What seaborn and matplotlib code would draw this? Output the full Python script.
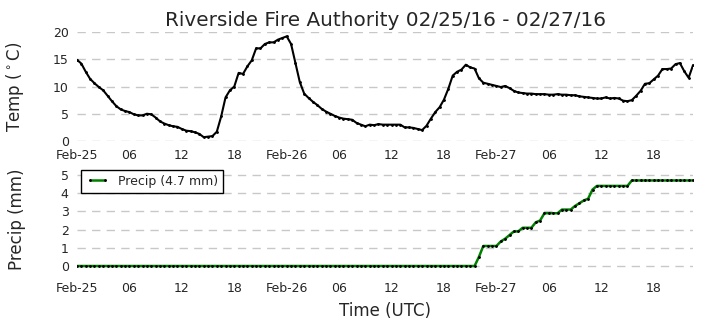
import matplotlib
matplotlib.use("Agg")
import matplotlib.pyplot as plt
import matplotlib.dates as mdates
import seaborn as sns
import pandas as pd
import numpy as np

title = "Riverside Fire Authority 02/25/16 - 02/27/16"
start_time = "2016-02-25 00:00"
step = "30min"

# Temperature (deg C), every 30 minutes from 2016-02-25 00:00 UTC
temp_c = [
    14.9, 14.2, 12.7, 11.4, 10.6, 9.9, 9.3, 8.3, 7.3, 6.4, 5.8, 5.5,
    5.3, 4.9, 4.7, 4.7, 5.0, 4.9, 4.3, 3.6, 3.2, 2.9, 2.7, 2.6,
    2.2, 1.9, 1.8, 1.6, 1.3, 0.7, 0.8, 0.9, 1.7, 4.5, 8.0, 9.3,
    10.0, 12.5, 12.3, 13.7, 14.8, 17.0, 17.0, 17.8, 18.1, 18.1, 18.6, 18.9,
    19.2, 17.8, 14.3, 10.8, 8.7, 7.9, 7.2, 6.6, 5.9, 5.4, 5.0, 4.6,
    4.3, 4.1, 4.0, 3.9, 3.3, 3.0, 2.7, 3.0, 2.9, 3.1, 3.0, 3.0,
    3.0, 3.0, 3.0, 2.5, 2.5, 2.4, 2.2, 2.0, 2.8, 4.1, 5.3, 6.2,
    7.6, 9.6, 12.0, 12.7, 13.1, 14.0, 13.5, 13.3, 11.5, 10.7, 10.5, 10.3,
    10.1, 9.9, 10.1, 9.7, 9.2, 8.9, 8.8, 8.7, 8.7, 8.6, 8.6, 8.6,
    8.5, 8.5, 8.6, 8.5, 8.5, 8.4, 8.4, 8.2, 8.1, 8.0, 7.9, 7.8,
    7.8, 8.0, 7.8, 7.9, 7.8, 7.4, 7.3, 7.5, 8.3, 9.2, 10.5, 10.6,
    11.3, 12.0, 13.2, 13.2, 13.3, 14.1, 14.3, 12.8, 11.6, 13.9,
]

# Cumulative precipitation (mm), same timestamps
precip_mm = (
    [0.0] * 92
    + [0.5, 1.1, 1.1, 1.1, 1.1, 1.35, 1.5, 1.7, 1.9, 1.9, 2.1, 2.1,
       2.1, 2.4, 2.5, 2.9, 2.9, 2.9, 2.9, 3.1, 3.1, 3.1, 3.3, 3.45,
       3.6, 3.7, 4.2, 4.4, 4.4, 4.4, 4.4, 4.4, 4.4, 4.4, 4.4, 4.7,
       4.7, 4.7, 4.7, 4.7, 4.7, 4.7, 4.7, 4.7, 4.7, 4.7, 4.7, 4.7,
       4.7, 4.7]
)

times = pd.date_range(start_time, periods=len(temp_c), freq=step)
df = pd.DataFrame({"time": times, "temp": temp_c, "precip": precip_mm[:len(temp_c)]})
total = df["precip"].max()

sns.set_style("white")
plt.rcParams["font.family"] = ["DejaVu Sans"]

fig = plt.figure(figsize=(7.05, 3.28), dpi=100)
ax1 = fig.add_axes([77 / 705, 1 - 141 / 328, 616 / 705, 109 / 328])
ax2 = fig.add_axes([77 / 705, 1 - 273.3 / 328, 616 / 705, 107.4 / 328])

grid_kw = dict(color="#c8c8c8", linestyle=(0, (6, 4.5)), linewidth=1)

sns.lineplot(data=df, x="time", y="temp", ax=ax1, color="black", linewidth=1.5,
             marker=".", markersize=2.5, markeredgecolor="black")
ax1.set_ylim(0, 20)
ax1.set_yticks([0, 5, 10, 15, 20])
ax1.set_ylabel(r"Temp ($^\circ$C)", fontsize=12)
ax1.set_xlabel("")
ax1.set_title(title, fontsize=14.4, pad=4)

sns.lineplot(data=df, x="time", y="precip", ax=ax2, color="#008000", linewidth=1.8,
             marker=".", markersize=2.5, markerfacecolor="black", markeredgecolor="black",
             label=f"Precip ({total:.1f} mm)")
ax2.set_ylim(-0.4, 5.5)
ax2.set_yticks([0, 1, 2, 3, 4, 5])
ax2.set_ylabel("Precip (mm)", fontsize=12)
ax2.set_xlabel("Time (UTC)", fontsize=12, labelpad=5)
leg = ax2.legend(loc="upper left", fontsize=9, numpoints=2, fancybox=False,
                 framealpha=1, edgecolor="black", borderaxespad=0.3, handlelength=1.8)
leg.get_frame().set_linewidth(1)


def fmt(x, pos=None):
    d = mdates.num2date(x)
    return d.strftime("%b-%d") if d.hour == 0 else d.strftime("%H")


for ax in (ax1, ax2):
    ax.set_xlim(df["time"].min(), df["time"].max())
    ax.xaxis.set_major_locator(mdates.HourLocator(byhour=[0, 6, 12, 18]))
    ax.xaxis.set_major_formatter(plt.FuncFormatter(fmt))
    ax.yaxis.grid(True, **grid_kw)
    ax.xaxis.grid(False)
    ax.set_axisbelow(True)
    for s in ax.spines.values():
        s.set_visible(False)
    ax.tick_params(length=0, pad=6, labelsize=9)
    ax.yaxis.set_label_coords(-0.082, 0.5)

fig.savefig("out.png", dpi=100)
